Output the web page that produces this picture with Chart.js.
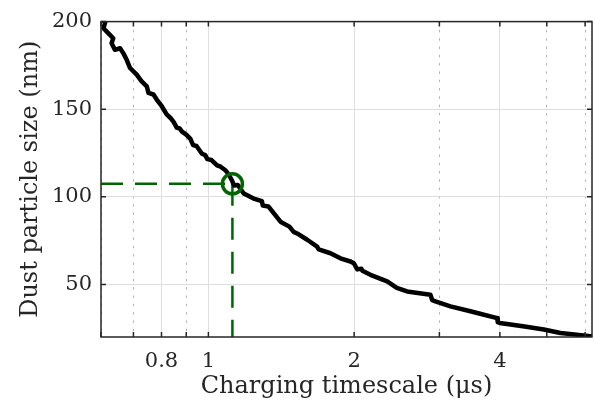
<!DOCTYPE html>
<html>
<head>
<meta charset="utf-8">
<script src="https://cdn.jsdelivr.net/npm/chart.js@4"></script>
<style>
    body { margin: 0; background: #fff; }
    #wrap { width: 595px; height: 412px; }
</style>
</head>
<body>
<div id="wrap"><canvas id="Chart-1" width="595" height="412"></canvas></div>
<script>
// charging timescale (us) vs dust particle size (nm)
const timescale = [0.604, 0.612, 0.607, 0.621, 0.636, 0.631, 0.641, 0.657, 0.667, 0.678, 0.689, 0.711,
    0.728, 0.746, 0.752, 0.770, 0.782, 0.801, 0.820, 0.835, 0.848, 0.860, 0.872, 0.882, 0.900, 0.918,
    0.930, 0.945, 0.970, 0.985, 0.995, 1.015, 1.042, 1.060, 1.084, 1.100, 1.120, 1.130, 1.150, 1.183,
    1.240, 1.290, 1.295, 1.330, 1.409, 1.470, 1.500, 1.525, 1.600, 1.677, 1.690, 1.787, 1.874, 1.966,
    1.997, 2.030, 2.070, 2.080, 2.161, 2.340, 2.450, 2.573, 2.875, 2.900, 2.944, 3.162, 3.477, 3.591,
    3.950, 3.960, 4.000, 4.500, 4.930, 5.337, 6.157, 6.250];
const particleSize = [201, 199.6, 196.2, 193.4, 190.5, 187.7, 183.9, 184.8, 182.0, 178.2, 173.5, 169.7,
    165.9, 163.1, 159.3, 158.4, 155.5, 151.7, 147.0, 145.0, 142.6, 139.5, 139.0, 137.2, 135.5, 133.1,
    129.5, 129.0, 124.6, 123.8, 121.5, 121.0, 118.0, 117.2, 115.2, 113.0, 109.0, 106.5, 106.8, 101.9,
    99.0, 97.5, 95.0, 94.5, 85.8, 83.0, 80.0, 79.1, 75.5, 71.6, 70.0, 67.8, 64.9, 63.1,
    62.1, 58.6, 59.0, 57.8, 55.5, 51.7, 48.0, 46.0, 44.1, 41.0, 40.3, 37.5, 34.7, 33.7,
    30.8, 28.5, 28.0, 26.0, 24.3, 22.3, 20.5, 20.2];

// highlighted point
const markX = [1.121];
const markY = [107.4];

// axes
const xRange = [0.6, 6.2];
const yRange = [20, 200];
const xTicks = [0.6, 0.7, 0.8, 0.9, 1, 2, 3, 4, 5, 6];
const xMajor = [0.8, 1, 2, 4];
const yTicks = [50, 100, 150, 200];

const axisColor = '#262626';
const green = '#006400';
const fontFamily = "'DejaVu Serif', serif";

// box around the axes with inward ticks (matlab style)
const boxPlugin = {
    id: 'box',
    afterDatasetsDraw(chart) {
        const ctx = chart.ctx;
        const a = chart.chartArea;
        const xs = chart.scales.x, ys = chart.scales.y;
        ctx.save();
        ctx.strokeStyle = axisColor;
        ctx.lineWidth = 1.5;
        ctx.beginPath();
        xTicks.forEach(v => {
            const px = xs.getPixelForValue(v);
            ctx.moveTo(px, a.bottom); ctx.lineTo(px, a.bottom - 5);
            ctx.moveTo(px, a.top); ctx.lineTo(px, a.top + 5);
        });
        yTicks.forEach(v => {
            const py = ys.getPixelForValue(v);
            ctx.moveTo(a.left, py); ctx.lineTo(a.left + 5, py);
            ctx.moveTo(a.right, py); ctx.lineTo(a.right - 5, py);
        });
        ctx.stroke();
        ctx.strokeRect(a.left, a.top, a.right - a.left, a.bottom - a.top);
        ctx.restore();
    }
};

new Chart(document.getElementById("Chart-1"), {
    type: 'scatter',
    data: {
        datasets: [{
            data: markX.map((x, i) => ({x: x, y: markY[i]})),
            pointStyle: 'circle',
            pointRadius: 10,
            pointHoverRadius: 10,
            borderWidth: 3.5,
            pointBorderColor: green,
            pointBackgroundColor: 'rgba(0,0,0,0)',
            showLine: false,
            order: 0
        }, {
            data: timescale.map((x, i) => ({x: x, y: particleSize[i]})),
            showLine: true,
            borderColor: '#000',
            borderWidth: 4.5,
            borderJoinStyle: 'round',
            borderCapStyle: 'round',
            pointRadius: 0,
            tension: 0,
            order: 1
        }, {
            data: [{x: xRange[0], y: markY[0]}, {x: markX[0], y: markY[0]}],
            showLine: true,
            borderColor: green,
            borderWidth: 2.5,
            borderDash: [22, 12],
            pointRadius: 0,
            order: 2
        }, {
            data: [{x: markX[0], y: markY[0]}, {x: markX[0], y: yRange[0]}],
            showLine: true,
            borderColor: green,
            borderWidth: 2.5,
            borderDash: [22, 12],
            pointRadius: 0,
            order: 2
        }]
    },
    options: {
        responsive: false,
        animation: false,
        layout: {
            autoPadding: false,
            padding: {left: 0, right: 3, top: 19, bottom: 0}
        },
        plugins: {
            legend: { display: false },
            tooltip: { enabled: false }
        },
        scales: {
            x: {
                type: 'logarithmic',
                min: xRange[0],
                max: xRange[1],
                afterBuildTicks: (scale) => {
                    scale.ticks = xTicks.map(v => ({value: v}));
                },
                afterFit: (scale) => {
                    scale.height = 75;
                    scale.paddingLeft = 0;
                    scale.paddingRight = 0;
                },
                grid: {
                    drawTicks: false,
                    color: (c) => xMajor.includes(c.tick && c.tick.value) ? '#dedede' : '#b4b4b4',
                    lineWidth: 1
                },
                border: {
                    display: false,
                    dash: (c) => xMajor.includes(c.tick && c.tick.value) ? [] : [2.5, 5.8]
                },
                ticks: {
                    autoSkip: false,
                    maxRotation: 0,
                    padding: 12,
                    color: axisColor,
                    font: { family: fontFamily, size: 21 },
                    callback: (v) => xMajor.includes(v) ? String(v) : ''
                },
                title: {
                    display: true,
                    text: 'Charging timescale (μs)',
                    color: axisColor,
                    font: { family: fontFamily, size: 24 },
                    padding: {top: 0, bottom: 11}
                }
            },
            y: {
                type: 'linear',
                min: yRange[0],
                max: yRange[1],
                afterBuildTicks: (scale) => {
                    scale.ticks = yTicks.map(v => ({value: v}));
                },
                afterFit: (scale) => { scale.width = 101; },
                grid: {
                    drawTicks: false,
                    color: '#dedede',
                    lineWidth: 1
                },
                border: { display: false },
                ticks: {
                    padding: 9,
                    color: axisColor,
                    font: { family: fontFamily, size: 21 }
                },
                title: {
                    display: true,
                    text: 'Dust particle size (nm)',
                    color: axisColor,
                    font: { family: fontFamily, size: 24 },
                    padding: {top: 16, bottom: 0}
                }
            }
        }
    },
    plugins: [boxPlugin]
});
</script>
</body>
</html>
